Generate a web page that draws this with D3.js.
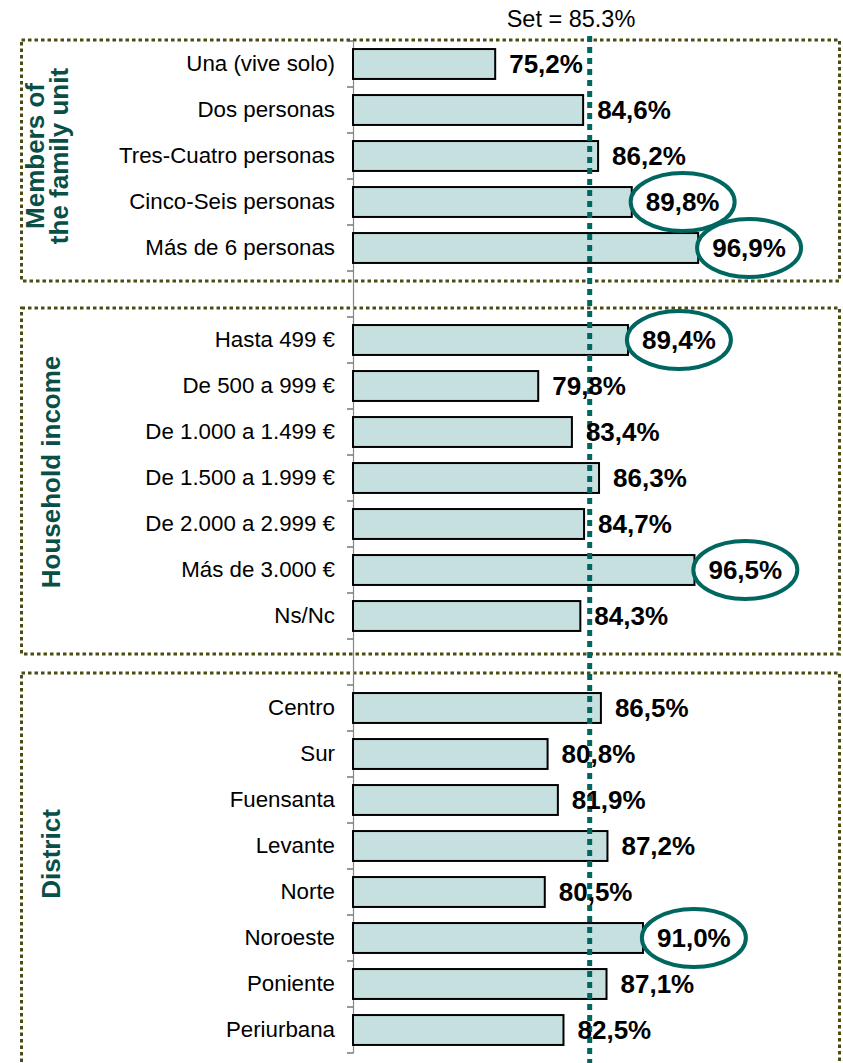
<!DOCTYPE html>
<html>
<head>
<meta charset="utf-8">
<script src="https://cdn.jsdelivr.net/npm/d3@7"></script>
<style>
  body { margin: 0; background: #fff; }
  text { font-family: Arial, "Liberation Sans", sans-serif; }
</style>
</head>
<body>
<svg id="chart"></svg>
<script>
// Data
const familyLabels = ['Una (vive solo)', 'Dos personas', 'Tres-Cuatro personas', 'Cinco-Seis personas', 'Más de 6 personas'];
const familyValues = [75.2, 84.6, 86.2, 89.8, 96.9];

const incomeLabels = ['Hasta 499 €', 'De 500 a 999 €', 'De 1.000 a 1.499 €', 'De 1.500 a 1.999 €', 'De 2.000 a 2.999 €', 'Más de 3.000 €', 'Ns/Nc'];
const incomeValues = [89.4, 79.8, 83.4, 86.3, 84.7, 96.5, 84.3];

const districtLabels = ['Centro', 'Sur', 'Fuensanta', 'Levante', 'Norte', 'Noroeste', 'Poniente', 'Periurbana'];
const districtValues = [86.5, 80.8, 81.9, 87.2, 80.5, 91.0, 87.1, 82.5];

const highlighted = ['Cinco-Seis personas', 'Más de 6 personas', 'Hasta 499 €', 'Más de 3.000 €', 'Noroeste'];
const groupTitles = [['Members of', 'the family unit'], ['Household income'], ['District']];
const setValue = 85.3;

const groups = [
  { key: 'g1', title: groupTitles[0], labels: familyLabels, values: familyValues },
  { key: 'g2', title: groupTitles[1], labels: incomeLabels, values: incomeValues },
  { key: 'g3', title: groupTitles[2], labels: districtLabels, values: districtValues }
];

// rows, with an empty slot between groups
const rows = [];
groups.forEach((g, gi) => {
  if (gi > 0) rows.push({ key: 'gap' + gi, label: '', value: null });
  g.labels.forEach((l, i) => rows.push({ key: l, label: l, value: g.values[i], group: g.key }));
});

const width = 843, height = 1063;
const svg = d3.select('#chart').attr('width', width).attr('height', height);

const x = d3.scaleLinear().domain([60, 100]).range([353, 727.2]);
const y = d3.scaleBand()
  .domain(rows.map(d => d.key))
  .range([41, 1053])
  .paddingInner(0.35)
  .paddingOuter(0.175);

const fmt = v => d3.format('.1f')(v).replace('.', ',') + '%';
const teal = '#006660';
const boxColor = '#4b4b12';

// Group boxes (pads around the bands, and title placement)
const boxPads = { g1: [1, 10], g2: [9, 15], g3: [12, 30] };
const titleShift = { g1: 0, g2: -6, g3: -15 };
groups.forEach(g => {
  const first = g.labels[0], last = g.labels[g.labels.length - 1];
  const bandTop = y(first) - y.step() * 0.175;
  const bandBottom = y(last) + y.bandwidth() + y.step() * 0.175;
  const top = bandTop - boxPads[g.key][0];
  const bottom = bandBottom + boxPads[g.key][1];
  svg.append('rect')
    .attr('x', 21.5).attr('y', top)
    .attr('width', 818).attr('height', bottom - top)
    .attr('fill', 'none')
    .attr('stroke', boxColor)
    .attr('stroke-width', 3)
    .attr('stroke-dasharray', '3.5,3');

  const gy = (bandTop + bandBottom) / 2 + titleShift[g.key];
  const t = svg.append('text')
    .attr('transform', `translate(0,${gy}) rotate(-90)`)
    .attr('text-anchor', 'middle')
    .attr('fill', '#0a4f46')
    .style('font-weight', 'bold')
    .style('font-size', '26px');
  const n = g.title.length;
  g.title.forEach((line, i) => {
    t.append('tspan')
      .attr('x', 0)
      .attr('y', n > 1 ? 44 + i * 24 : 60)
      .text(line);
  });
});

// Axis
const yAxis = d3.axisLeft(y).tickSize(0).tickPadding(18).tickFormat(k => {
  const r = rows.find(d => d.key === k);
  return r ? r.label : '';
});
const axisG = svg.append('g')
  .attr('transform', `translate(${x.range()[0]},0)`)
  .call(yAxis);
axisG.select('.domain').attr('stroke', '#888').attr('stroke-width', 1.2);
axisG.selectAll('.tick text')
  .attr('fill', '#000')
  .style('font-size', '22.3px')
  .style('font-family', 'Arial, "Liberation Sans", sans-serif');

// boundary ticks
const bounds = rows.map(d => y(d.key) - y.step() * 0.175);
bounds.push(y(rows[rows.length - 1].key) + y.bandwidth() + y.step() * 0.175);
svg.append('g').selectAll('line')
  .data(bounds)
  .join('line')
  .attr('x1', x.range()[0] - 6).attr('x2', x.range()[0])
  .attr('y1', d => d).attr('y2', d => d)
  .attr('stroke', '#555').attr('stroke-width', 1.2);

// Bars
const data = rows.filter(d => d.value !== null);
svg.append('g').selectAll('rect')
  .data(data)
  .join('rect')
  .attr('x', x(60))
  .attr('y', d => y(d.key))
  .attr('width', d => x(d.value) - x(60))
  .attr('height', y.bandwidth())
  .attr('fill', '#c6dfdf')
  .attr('stroke', '#000')
  .attr('stroke-width', 2);

// Set line
svg.append('line')
  .attr('x1', x(setValue)).attr('x2', x(setValue))
  .attr('y1', 36).attr('y2', height)
  .attr('stroke', teal)
  .attr('stroke-width', 5)
  .attr('stroke-dasharray', '6,5');

svg.append('text')
  .attr('x', 571).attr('y', 27)
  .attr('text-anchor', 'middle')
  .style('font-size', '23.5px')
  .text('Set = ' + setValue + '%');

// Value labels + ellipses
const labG = svg.append('g');
data.forEach(d => {
  const hl = highlighted.includes(d.key);
  const cy = y(d.key) + y.bandwidth() / 2;
  const g = labG.append('g');
  const t = g.append('text')
    .attr('x', x(d.value) + 14)
    .attr('y', cy)
    .attr('dy', '0.36em')
    .style('font-size', '26px')
    .style('font-weight', 'bold')
    .text(fmt(d.value));
  if (hl) {
    const bb = t.node().getBBox();
    g.insert('ellipse', 'text')
      .attr('cx', bb.x + bb.width / 2)
      .attr('cy', cy)
      .attr('rx', 52)
      .attr('ry', 29)
      .attr('fill', '#fff')
      .attr('stroke', teal)
      .attr('stroke-width', 4);
  }
});
</script>
</body>
</html>
